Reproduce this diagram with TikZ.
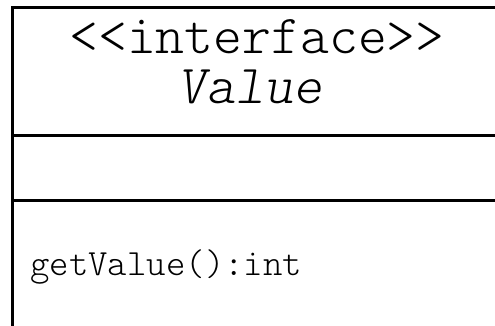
\documentclass[tikz,border=0pt]{standalone}
\usepackage{fontspec}
\newfontfamily\lmlight{lmmonolt10-regular.otf}[ItalicFont=lmmonolt10-oblique.otf]
\begin{document}
\begin{tikzpicture}[x=1pt,y=1pt,
  umlline/.style={line width=3pt, draw=black},
  bigtxt/.style={font=\lmlight\fontsize{55}{60}\selectfont, inner sep=0pt, anchor=base},
  smalltxt/.style={font=\lmlight\fontsize{37}{40}\selectfont, inner sep=0pt, anchor=base west}]
\useasboundingbox (0,0) rectangle (495,325);
\clip (0,0) rectangle (495,325);
\fill[white] (0,0) rectangle (495,325);
\coordinate (tl) at (12,318);
\coordinate (tr) at (520,318);
\coordinate (bl) at (12,-20);
\coordinate (l1) at (12,190);
\coordinate (r1) at (520,190);
\coordinate (l2) at (12,125);
\coordinate (r2) at (520,125);
\draw[umlline] (tr) -- (tl) -- (bl);
\draw[umlline] (l1) -- (r1);
\draw[umlline] (l2) -- (r2);
\node[bigtxt] (stereo) at (257,272) {<{}<interface>{}>};
\node[bigtxt] (name) at (250,222) {\itshape Value};
\node[smalltxt] (meth) at (30,50) {getValue():int};
\end{tikzpicture}
\end{document}
